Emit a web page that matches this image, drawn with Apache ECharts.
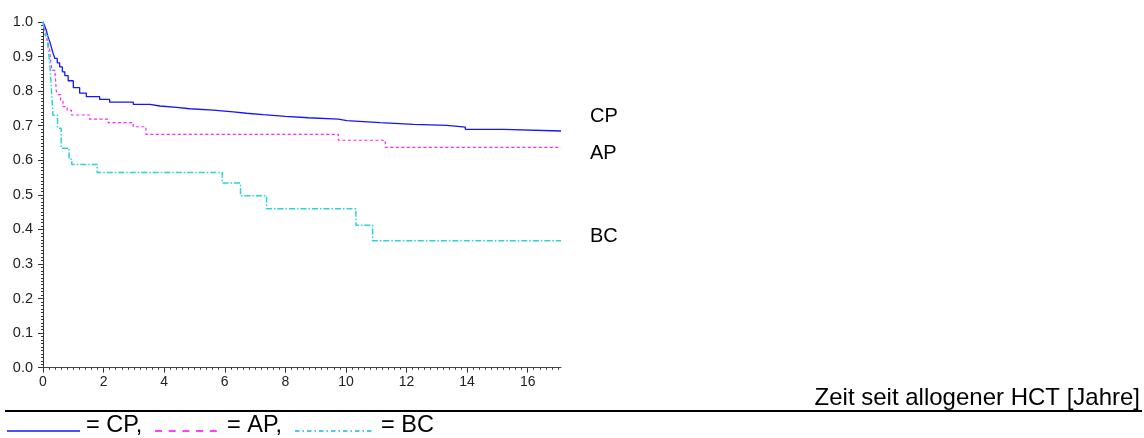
<!DOCTYPE html>
<html>
<head>
<meta charset="utf-8">
<script src="https://cdn.jsdelivr.net/npm/echarts@6/dist/echarts.min.js"></script>
<style>html,body{margin:0;padding:0;background:#fff;}#c{width:1144px;height:438px;}</style>
</head>
<body>
<div id="c"></div>
<script>
// ---- data ----
const xTickLabels = [0, 2, 4, 6, 8, 10, 12, 14, 16];
const yTickLabels = [0, 0.1, 0.2, 0.3, 0.4, 0.5, 0.6, 0.7, 0.8, 0.9, 1.0];
const seriesNames = ['CP', 'AP', 'BC'];

const cpTime = [0, 0.05, 0.11, 0.16, 0.22, 0.28, 0.33, 0.39, 0.47, 0.55, 0.64, 0.72, 0.83, 1.0, 1.21, 1.43, 1.87, 2.2, 2.98, 3.53, 3.86, 4.41, 4.85, 5.62, 6.28, 6.72, 7.27, 8.0, 8.76, 9.75, 10.03, 11.13, 12.23, 13.34, 13.94, 15.2, 17.1];
const cpSurv = [1.0, 0.99, 0.976, 0.958, 0.944, 0.926, 0.91, 0.895, 0.882, 0.87, 0.856, 0.845, 0.83, 0.81, 0.794, 0.784, 0.776, 0.768, 0.762, 0.757, 0.753, 0.749, 0.745, 0.740, 0.736, 0.732, 0.727, 0.723, 0.719, 0.7145, 0.709, 0.704, 0.701, 0.696, 0.6895, 0.6847, 0.6847];

const apTime = [0, 0.04, 0.1, 0.16, 0.22, 0.26, 0.3, 0.4, 0.44, 0.5, 0.58, 0.66, 0.8, 0.94, 1.54, 2.15, 2.98, 3.4, 9.75, 11.3, 17.1];
const apSurv = [1.0, 0.98, 0.96, 0.94, 0.92, 0.88, 0.86, 0.85, 0.80, 0.79, 0.775, 0.755, 0.745, 0.731, 0.719, 0.709, 0.697, 0.675, 0.658, 0.6375, 0.6375];

const bcTime = [0, 0.03, 0.08, 0.16, 0.2, 0.24, 0.28, 0.31, 0.33, 0.48, 0.6, 0.86, 0.95, 1.79, 5.92, 6.52, 7.38, 10.33, 10.88, 17.1];
const bcSurv = [1.0, 0.98, 0.96, 0.93, 0.90, 0.86, 0.80, 0.76, 0.73, 0.693, 0.635, 0.603, 0.588, 0.565, 0.534, 0.4975, 0.46, 0.412, 0.367, 0.367];

const xAxisTitle = 'Zeit seit allogener HCT [Jahre]';
const legendTexts = ['= CP,', '= AP,', '= BC'];

// ---- build ----
function zip(t, v) { return t.map((x, i) => [x, v[i]]); }
const FONT = 'Liberation Sans, Arial, sans-serif';

const chart = echarts.init(document.getElementById('c'), null, { renderer: 'canvas' });

function endLbl(dy) {
  return {
    show: true, formatter: p => p.seriesName, fontSize: 20, fontFamily: FONT,
    color: '#000', distance: 8, offset: [21, dy]
  };
}

const option = {
  animation: false,
  backgroundColor: '#fff',
  grid: { left: 43, top: 22, right: 583, bottom: 70.3 },
  xAxis: {
    type: 'value', min: 0, max: 17.1, interval: 2,
    axisLine: { show: true, onZero: false, lineStyle: { color: '#444', width: 1 } },
    axisTick: { show: true, inside: false, length: 5, lineStyle: { color: '#333' }, customValues: xTickLabels },
    minorTick: { show: true, splitNumber: 10, length: 2, lineStyle: { color: '#333' } },
    axisLabel: { fontSize: 14, fontFamily: FONT, color: '#222', margin: 7, customValues: xTickLabels },
    splitLine: { show: false }
  },
  yAxis: {
    type: 'value', min: 0, max: 1, interval: 0.1,
    axisLine: { show: true, lineStyle: { color: '#333', width: 1 } },
    axisTick: { show: true, inside: false, length: 5, lineStyle: { color: '#333' } },
    minorTick: { show: true, splitNumber: 10, length: 2, lineStyle: { color: '#333' } },
    axisLabel: { fontSize: 14.5, fontFamily: FONT, color: '#222', margin: 10,
      formatter: v => v.toFixed(1) },
    splitLine: { show: false }
  },
  series: [
    { name: seriesNames[0], type: 'line', step: 'end', symbol: 'none', data: zip(cpTime, cpSurv),
      lineStyle: { color: '#1414ff', width: 1.3, type: 'solid' }, endLabel: endLbl(-15) },
    { name: seriesNames[1], type: 'line', step: 'end', symbol: 'none', data: zip(apTime, apSurv),
      lineStyle: { color: '#ff22ff', width: 1.2, type: [3, 2.5] }, endLabel: endLbl(6) },
    { name: seriesNames[2], type: 'line', step: 'end', symbol: 'none', data: zip(bcTime, bcSurv),
      lineStyle: { color: '#2ad4d4', width: 1.5, type: [6, 2, 1.5, 2] }, endLabel: endLbl(-4) }
  ],
  graphic: [
    { type: 'text', right: 4, top: 386, style: { text: xAxisTitle, font: '24px ' + FONT, fill: '#000' } },
    { type: 'line', shape: { x1: 5, y1: 411, x2: 1142, y2: 411 }, style: { stroke: '#000', lineWidth: 2 } },
    { type: 'line', shape: { x1: 7, y1: 431, x2: 80, y2: 431 }, style: { stroke: '#1414ff', lineWidth: 1.5 } },
    { type: 'text', left: 86, top: 414, style: { text: legendTexts[0], font: '23.5px ' + FONT, fill: '#000' } },
    { type: 'line', shape: { x1: 155, y1: 431, x2: 221, y2: 431 }, style: { stroke: '#ff00ff', lineWidth: 1.5, lineDash: [7, 6.7] } },
    { type: 'text', left: 227, top: 414, style: { text: legendTexts[1], font: '23.5px ' + FONT, fill: '#000' } },
    { type: 'line', shape: { x1: 295, y1: 431, x2: 374, y2: 431 }, style: { stroke: '#1ab4f0', lineWidth: 1.5, lineDash: [4.5, 3, 1.5, 3] } },
    { type: 'text', left: 381, top: 414, style: { text: legendTexts[2], font: '23.5px ' + FONT, fill: '#000' } }
  ]
};
chart.setOption(option);
</script>
</body>
</html>
